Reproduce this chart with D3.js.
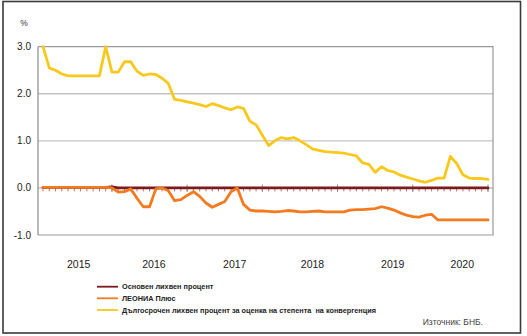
<!DOCTYPE html>
<html><head><meta charset="utf-8">
<script src="https://cdn.jsdelivr.net/npm/d3@7/dist/d3.min.js"></script>
<style>
html,body{margin:0;padding:0;background:#fff;}
svg{display:block;font-family:"Liberation Sans",Arial,sans-serif;}
</style></head>
<body><svg id="c" width="527" height="336"></svg>
<script>
// ---- data (monthly observations, index 0..71) ----
const baseRate = [0.01,0.01,0.01,0.01,0.01,0.01,0.01,0.01,0.01,0.01,0.01,0.02,0.00,0.00,0.00,0.00,0.00,0.00,0.00,0.00,0.00,0.00,0.00,0.00,0.00,0.00,0.00,0.00,0.00,0.00,0.00,0.00,0.00,0.00,0.00,0.00,0.00,0.00,0.00,0.00,0.00,0.00,0.00,0.00,0.00,0.00,0.00,0.00,0.00,0.00,0.00,0.00,0.00,0.00,0.00,0.00,0.00,0.00,0.00,0.00,0.00,0.00,0.00,0.00,0.00,0.00,0.00,0.00,0.00,0.00,0.00,0.00];
const leoniaPlus = [0.01,0.01,0.01,0.01,0.01,0.01,0.01,0.01,0.01,0.01,0.01,0.00,-0.09,-0.08,-0.02,-0.22,-0.40,-0.40,-0.02,0.00,-0.06,-0.27,-0.25,-0.16,-0.08,-0.18,-0.32,-0.41,-0.35,-0.29,-0.08,0.00,-0.35,-0.47,-0.49,-0.49,-0.50,-0.51,-0.50,-0.48,-0.49,-0.51,-0.51,-0.50,-0.49,-0.51,-0.51,-0.51,-0.51,-0.47,-0.46,-0.46,-0.45,-0.44,-0.40,-0.43,-0.47,-0.53,-0.58,-0.61,-0.62,-0.58,-0.56,-0.68,-0.68,-0.68,-0.68,-0.68,-0.68,-0.68,-0.68,-0.68];
const longTermRate = [3.00,2.55,2.50,2.42,2.38,2.38,2.38,2.38,2.38,2.38,3.00,2.46,2.46,2.68,2.68,2.48,2.39,2.42,2.41,2.33,2.22,1.88,1.86,1.83,1.80,1.77,1.73,1.79,1.75,1.70,1.66,1.72,1.69,1.42,1.34,1.12,0.90,1.00,1.07,1.04,1.07,1.00,0.92,0.83,0.80,0.77,0.76,0.75,0.74,0.71,0.68,0.53,0.50,0.33,0.45,0.37,0.34,0.27,0.23,0.19,0.15,0.12,0.16,0.21,0.21,0.67,0.52,0.28,0.21,0.20,0.20,0.18];
const seriesNames = ["Основен лихвен процент","ЛЕОНИА Плюс","Дългосрочен лихвен процент за оценка на степента  на конвергенция"];
const seriesColors = ["#7d1a1c","#f47a20","#f8c81c"];
const yTicks = [-1,0,1,2,3];
const yTickLabels = ["-1.0","0.0","1.0","2.0","3.0"];
const yearLabels = ["2015","2016","2017","2018","2019","2020"];
const yearLabelPos = [5.7,17.7,30.6,43.0,55.8,66.9];
const yearBoundaries = [11,23,35,47,59,71];
const unitLabel = "%";
const sourceText = "Източник: БНБ.";

// ---- layout ----
const svg = d3.select("#c");
const n = longTermRate.length;
const plotL = 38, plotR = 493;
const x = d3.scaleLinear().domain([0, n-1]).range([43, 488]);
const y = d3.scaleLinear().domain([-1, 3]).range([235, 46.7]);

// outer frame
svg.append("rect").attr("x",3).attr("y",1.5).attr("width",517.5).attr("height",331.5)
  .attr("fill","none").attr("stroke","#3a3a3a").attr("stroke-width",1.6);

// gridlines
svg.append("g").selectAll("line").data(yTicks.filter(v=>v>-1 && v<3)).join("line")
  .attr("x1",plotL).attr("x2",plotR).attr("y1",d=>y(d)).attr("y2",d=>y(d))
  .attr("stroke","#c4c4c4").attr("stroke-width",1.4);
// plot border (top, right, bottom)
svg.append("path").attr("d",`M${plotL},${y(3)}H${plotR}V${y(-1)}H${plotL}`)
  .attr("fill","none").attr("stroke","#9a9a9a").attr("stroke-width",1.2);
// left axis
svg.append("line").attr("x1",plotL).attr("x2",plotL).attr("y1",y(3)).attr("y2",y(-1))
  .attr("stroke","#8a8a8a").attr("stroke-width",1.2);

// y labels
svg.append("g").selectAll("text").data(yTicks).join("text")
  .attr("x",31).attr("y",d=>y(d)+3.5).attr("text-anchor","end")
  .attr("font-size",10).attr("fill","#222").text((d,i)=>yTickLabels[i]);
svg.append("text").attr("x",24).attr("y",26).attr("text-anchor","middle")
  .attr("font-size",8.5).attr("fill","#333").text(unitLabel);

// category axis ticks on zero line
const idx = d3.range(n);
svg.append("g").selectAll("line").data(idx).join("line")
  .attr("x1",d=>x(d)).attr("x2",d=>x(d)).attr("y1",y(0)).attr("y2",y(0)+3.5)
  .attr("stroke","#a0524f").attr("stroke-width",0.8);
svg.append("g").selectAll("line").data(yearBoundaries).join("line")
  .attr("x1",d=>x(d)).attr("x2",d=>x(d)).attr("y1",y(0)-3.5).attr("y2",y(0)+4)
  .attr("stroke","#8a8a8a").attr("stroke-width",0.9);

// year labels
svg.append("g").selectAll("text").data(yearLabels).join("text")
  .attr("x",(d,i)=>x(yearLabelPos[i])).attr("y",268).attr("text-anchor","middle")
  .attr("font-size",10.5).attr("fill","#222").text(d=>d);

// lines
const line = d3.line().x((d,i)=>x(i)).y(d=>y(d)).curve(d3.curveLinear);
const order = [[baseRate,0],[leoniaPlus,1],[longTermRate,2]];
order.forEach(([vals,ci])=>{
  svg.append("path").datum(vals).attr("d",line).attr("fill","none")
    .attr("stroke",seriesColors[ci]).attr("stroke-width",2.8)
    .attr("stroke-linejoin","round").attr("stroke-linecap","round");
});

// legend
const lg = svg.append("g");
const legY = [286.7, 298.3, 310];
seriesNames.forEach((name,i)=>{
  lg.append("line").attr("x1",97).attr("x2",118).attr("y1",legY[i]).attr("y2",legY[i])
    .attr("stroke",seriesColors[i]).attr("stroke-width",1.8);
  lg.append("text").attr("x",122).attr("y",legY[i]+2.6).attr("font-size",7.3)
    .attr("font-weight","bold").attr("fill","#222").style("white-space","pre").text(name);
});

// source
svg.append("text").attr("x",483).attr("y",324.5).attr("text-anchor","end")
  .attr("font-size",8.5).attr("fill","#444").text(sourceText);
</script>
</body></html>
